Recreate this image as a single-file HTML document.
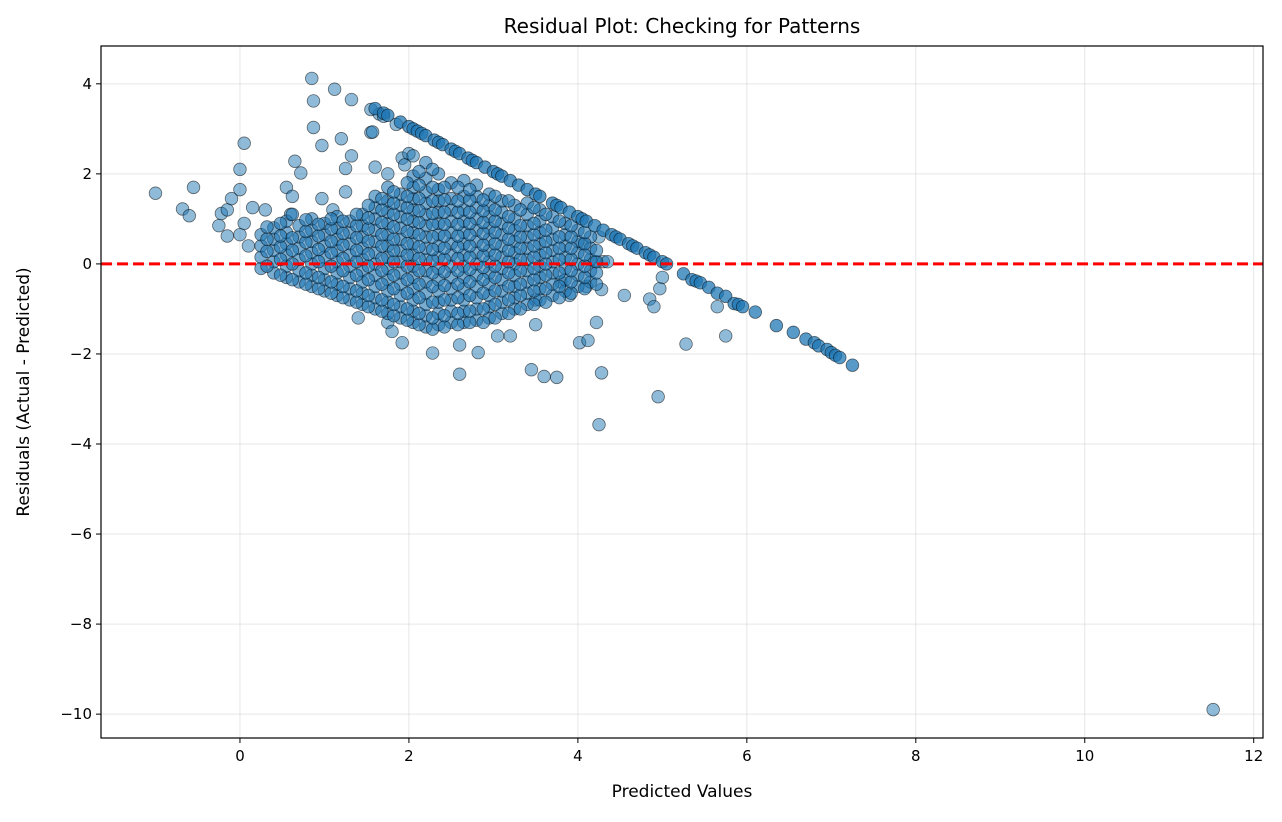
<!DOCTYPE html>
<html><head><meta charset="utf-8">
<style>
html,body{margin:0;padding:0;background:#fff;}
svg text{font-family:"DejaVu Sans","Liberation Sans",sans-serif;fill:#000;}
</style></head>
<body>
<svg id="chart" width="1282" height="817" xmlns="http://www.w3.org/2000/svg">
<rect width="1282" height="817" fill="#fff"/>
<text x="682" y="33" font-size="20" text-anchor="middle">Residual Plot: Checking for Patterns</text>
<g id="grid"></g>
<g id="points"></g>
<line id="zero" stroke="#ff0000" stroke-width="3" stroke-dasharray="11,5"/>
<rect x="101" y="46" width="1162" height="692" fill="none" stroke="#000" stroke-width="1.2"/>
<g id="axes"></g>
<text x="682" y="797" font-size="17" text-anchor="middle">Predicted Values</text>
<text x="29" y="392" font-size="17" text-anchor="middle" transform="rotate(-90 29 392)">Residuals (Actual - Predicted)</text>
</svg>
<script>
const xTicks = [0,2,4,6,8,10,12];
const yTicks = [4,2,0,-2,-4,-6,-8,-10];
const xTickLabels = ['0','2','4','6','8','10','12'];
const yTickLabels = ['4','2','0','\u22122','\u22124','\u22126','\u22128','\u221210'];
// dense cluster: each column is [predicted, residual1, residual2, ...]
const blobColumns = [
 [0.25,-0.1,0.15,0.4,0.65],
 [0.4,-0.2,0.05,0.3,0.55,0.8],
 [0.55,-0.3,-0.05,0.2,0.45,0.7,0.95],
 [0.7,-0.4,-0.15,0.1,0.35,0.6,0.85],
 [0.85,-0.5,-0.25,0,0.25,0.5,0.75,1.0],
 [1.0,-0.6,-0.35,-0.1,0.15,0.4,0.65,0.9],
 [1.15,-0.7,-0.45,-0.2,0.05,0.3,0.55,0.8,1.05],
 [1.3,-0.8,-0.55,-0.3,-0.05,0.2,0.45,0.7,0.95],
 [1.45,-0.9,-0.65,-0.4,-0.15,0.1,0.35,0.6,0.85,1.1],
 [1.6,-1.0,-0.75,-0.5,-0.25,0,0.25,0.5,0.75,1.0,1.25,1.5],
 [1.75,-1.1,-0.85,-0.6,-0.35,-0.1,0.15,0.4,0.65,0.9,1.15,1.4,1.7],
 [1.9,-1.2,-0.95,-0.7,-0.45,-0.2,0.05,0.3,0.55,0.8,1.05,1.3,1.55],
 [2.05,-1.3,-1.05,-0.8,-0.55,-0.3,-0.05,0.2,0.45,0.7,0.95,1.2,1.45,1.7,1.95],
 [2.2,-1.4,-1.15,-0.9,-0.65,-0.4,-0.15,0.1,0.35,0.6,0.85,1.1,1.35,1.6,1.9,2.25],
 [2.35,-1.35,-1.1,-0.85,-0.6,-0.35,-0.1,0.15,0.4,0.65,0.9,1.15,1.4,1.65,2.0],
 [2.5,-1.3,-1.05,-0.8,-0.55,-0.3,-0.05,0.2,0.45,0.7,0.95,1.2,1.45,1.8],
 [2.65,-1.3,-1.05,-0.8,-0.55,-0.3,-0.05,0.2,0.45,0.7,0.95,1.2,1.5,1.85],
 [2.8,-1.25,-1.0,-0.75,-0.5,-0.25,0,0.25,0.5,0.75,1.0,1.25,1.5,1.75],
 [2.95,-1.2,-0.95,-0.7,-0.45,-0.2,0.05,0.3,0.55,0.8,1.05,1.3,1.55],
 [3.1,-1.1,-0.85,-0.6,-0.35,-0.1,0.15,0.4,0.65,0.9,1.15,1.4],
 [3.25,-1.0,-0.75,-0.5,-0.25,0,0.25,0.5,0.75,1.0,1.3],
 [3.4,-0.9,-0.65,-0.4,-0.15,0.1,0.35,0.6,0.85,1.1,1.35],
 [3.55,-0.8,-0.55,-0.3,-0.05,0.2,0.45,0.7,0.95,1.2],
 [3.7,-0.7,-0.45,-0.2,0.05,0.3,0.55,0.8,1.05],
 [3.85,-0.6,-0.35,-0.1,0.15,0.4,0.65,0.9],
 [4.0,-0.5,-0.25,0,0.25,0.5,0.75],
 [4.15,-0.4,-0.15,0.1,0.35,0.6]
];
// second, offset layer of the dense cluster
const blobColumns2 = [
 [0.32,-0.05,0.28,0.55,0.82],
 [0.48,-0.25,0.1,0.38,0.62,0.9],
 [0.62,-0.35,0.0,0.3,0.58,1.1],
 [0.78,-0.45,-0.2,0.18,0.48,0.72,0.98],
 [0.93,-0.55,-0.3,0.05,0.32,0.62,0.88],
 [1.08,-0.65,-0.4,-0.05,0.25,0.5,0.78,1.0],
 [1.22,-0.75,-0.5,-0.15,0.12,0.42,0.68,0.95],
 [1.38,-0.85,-0.6,-0.25,0.05,0.3,0.58,0.85,1.1],
 [1.52,-0.95,-0.7,-0.35,-0.05,0.22,0.5,0.78,1.02,1.3],
 [1.68,-1.05,-0.8,-0.45,-0.15,0.12,0.4,0.65,0.92,1.2,1.45],
 [1.82,-1.15,-0.9,-0.55,-0.25,0.05,0.3,0.55,0.82,1.1,1.35,1.6],
 [1.98,-1.25,-1.0,-0.65,-0.35,-0.05,0.2,0.45,0.72,1.0,1.25,1.5,1.8],
 [2.12,-1.35,-1.1,-0.75,-0.45,-0.15,0.12,0.38,0.65,0.92,1.18,1.45,1.75,2.05],
 [2.28,-1.45,-1.2,-0.85,-0.5,-0.2,0.08,0.32,0.6,0.88,1.12,1.4,1.7,2.1],
 [2.42,-1.4,-1.15,-0.8,-0.48,-0.18,0.1,0.35,0.62,0.88,1.15,1.42,1.7],
 [2.58,-1.35,-1.1,-0.75,-0.45,-0.15,0.12,0.38,0.62,0.88,1.15,1.4,1.7],
 [2.72,-1.3,-1.05,-0.7,-0.4,-0.12,0.15,0.4,0.65,0.9,1.15,1.42,1.65],
 [2.88,-1.3,-1.0,-0.65,-0.35,-0.08,0.18,0.42,0.68,0.92,1.18,1.42],
 [3.02,-1.2,-0.9,-0.6,-0.3,-0.05,0.2,0.45,0.7,0.95,1.2,1.5],
 [3.18,-1.1,-0.8,-0.5,-0.2,0.05,0.3,0.55,0.8,1.05,1.4],
 [3.32,-1.0,-0.7,-0.45,-0.15,0.1,0.35,0.6,0.85,1.2],
 [3.48,-0.9,-0.6,-0.35,-0.1,0.15,0.4,0.65,0.9,1.25],
 [3.62,-0.85,-0.55,-0.25,0.0,0.25,0.5,0.75,1.1],
 [3.78,-0.75,-0.5,-0.2,0.1,0.35,0.6,0.95],
 [3.92,-0.65,-0.4,-0.15,0.1,0.35,0.6,0.85],
 [4.08,-0.55,-0.3,-0.05,0.2,0.45,0.7],
 [4.22,-0.45,-0.2,0.05,0.3]
];
// the diagonal boundary (capped targets)
const linePoints = [[1.6,3.45],[1.7,3.35],[1.75,3.3],[1.9,3.15],[2.0,3.05],[2.05,3.0],[2.1,2.95],[2.15,2.9],[2.2,2.85],[2.3,2.75],[2.35,2.7],[2.4,2.65],[2.5,2.55],[2.55,2.5],[2.6,2.45],[2.7,2.35],[2.75,2.3],[2.8,2.25],[2.9,2.15],[3.0,2.05],[3.05,2.0],[3.1,1.95],[3.2,1.85],[3.3,1.75],[3.4,1.65],[3.5,1.55],[3.55,1.5],[3.7,1.35],[3.75,1.3],[3.8,1.25],[3.9,1.15],[4.0,1.05],[4.05,1.0],[4.1,0.95],[4.2,0.85],[4.3,0.75],[4.4,0.65],[4.45,0.6],[4.5,0.55],[4.6,0.45],[4.65,0.4],[4.7,0.35],[4.8,0.25],[4.85,0.2],[4.9,0.15],[5.0,0.05],[5.05,0.0],[5.25,-0.22],[5.35,-0.35],[5.4,-0.38],[5.45,-0.42],[5.55,-0.52],[5.65,-0.65],[5.75,-0.72],[5.85,-0.88],[5.9,-0.9],[5.95,-0.95],[6.1,-1.07],[6.35,-1.37],[6.55,-1.52],[6.7,-1.67],[6.8,-1.75],[6.85,-1.82],[6.95,-1.9],[7.0,-1.97],[7.05,-2.03],[7.1,-2.08],[7.25,-2.25]];
const outlierPoints = [[-1.0,1.57],[-0.68,1.22],[-0.6,1.07],[-0.55,1.7],[-0.25,0.85],[-0.22,1.12],[-0.15,1.2],[-0.15,0.62],[-0.1,1.45],[0.0,1.65],[0.0,2.1],[0.05,2.68],[0.05,0.9],[0.0,0.65],[0.1,0.4],[0.15,1.25],[0.3,1.2],[0.55,1.7],[0.6,1.1],[0.62,1.5],[0.65,2.28],[0.72,2.02],[0.85,4.12],[0.87,3.62],[0.87,3.03],[0.97,2.63],[0.97,1.45],[1.1,1.2],[1.12,3.88],[1.2,2.78],[1.25,2.12],[1.32,3.65],[1.32,2.4],[1.25,1.6],[1.55,3.43],[1.55,2.92],[1.57,2.93],[1.65,3.33],[1.7,3.28],[1.6,2.15],[1.75,2.0],[1.85,3.1],[1.92,2.35],[1.95,2.2],[2.0,2.45],[2.05,2.4],[1.4,-1.2],[1.75,-1.3],[1.8,-1.5],[1.92,-1.75],[2.28,-1.98],[2.6,-2.45],[2.6,-1.8],[2.82,-1.97],[3.05,-1.6],[3.2,-1.6],[3.45,-2.35],[3.6,-2.5],[3.75,-2.52],[3.5,-1.35],[4.02,-1.75],[4.12,-1.7],[4.22,-1.3],[4.25,-3.57],[4.28,-2.42],[4.28,-0.57],[4.55,-0.7],[4.85,-0.78],[4.9,-0.95],[4.95,-2.95],[4.97,-0.55],[5.0,-0.3],[5.28,-1.78],[5.65,-0.95],[5.75,-1.6],[11.52,-9.9],[3.9,-0.7],[3.8,-0.4],[4.1,-0.5],[4.2,0.05],[4.3,0.05],[4.35,0.05],[3.5,-0.8],[4.05,0.45],[4.25,0.6]];

const X0=101,X1=1263,Y0=46,Y1=738;
const xMin=-1.645,xMax=12.11,yMin=-10.53,yMax=4.84;
const sx=v=>X0+(v-xMin)/(xMax-xMin)*(X1-X0);
const sy=v=>Y1-(v-yMin)/(yMax-yMin)*(Y1-Y0);
const NS='http://www.w3.org/2000/svg';
const grid=document.getElementById('grid'),axes=document.getElementById('axes'),pts=document.getElementById('points');
function mk(tag,attrs,parent){const e=document.createElementNS(NS,tag);for(const k in attrs)e.setAttribute(k,attrs[k]);parent.appendChild(e);return e;}
xTicks.forEach((t,i)=>{
 const x=sx(t);
 const g=mk('line',{x1:x,x2:x,y1:Y0,y2:Y1,stroke:'#b0b0b0','stroke-opacity':0.3,'stroke-width':1},grid);
 
 
 const tk=mk('line',{x1:x,x2:x,y1:Y1,y2:Y1+5,stroke:'#000','stroke-width':1},axes);
 
 
 const tx=mk('text',{x:x,y:Y1+23,'font-size':15,'text-anchor':'middle'},axes);
 tx.textContent=xTickLabels[i];
 
 
});
yTicks.forEach((t,i)=>{
 const y=sy(t);
 const g=mk('line',{x1:X0,x2:X1,y1:y,y2:y,stroke:'#b0b0b0','stroke-opacity':0.3,'stroke-width':1},grid);
 
 
 const tk=mk('line',{x1:X0-5,x2:X0,y1:y,y2:y,stroke:'#000','stroke-width':1},axes);
 
 
 const tx=mk('text',{x:X0-9,y:y+5,'font-size':15,'text-anchor':'end'},axes);
 tx.textContent=yTickLabels[i];
 
 
});
function dot(px,py,op){
 const c=mk('circle',{cx:sx(px),cy:sy(py),r:6.3,fill:'#1f77b4','fill-opacity':op,stroke:'#000','stroke-opacity':0.55,'stroke-width':0.8},pts);
 
 
}
outlierPoints.forEach(p=>dot(p[0],p[1],0.5));
blobColumns.forEach(col=>{for(let k=1;k<col.length;k++)dot(col[0],col[k],0.6);});
blobColumns2.forEach(col=>{for(let k=1;k<col.length;k++)dot(col[0],col[k],0.6);});
linePoints.forEach(p=>dot(p[0],p[1],0.75));
const z=document.getElementById('zero');
z.setAttribute('x1',X0);z.setAttribute('x2',X1);z.setAttribute('y1',sy(0));z.setAttribute('y2',sy(0));
</script>
</body></html>
